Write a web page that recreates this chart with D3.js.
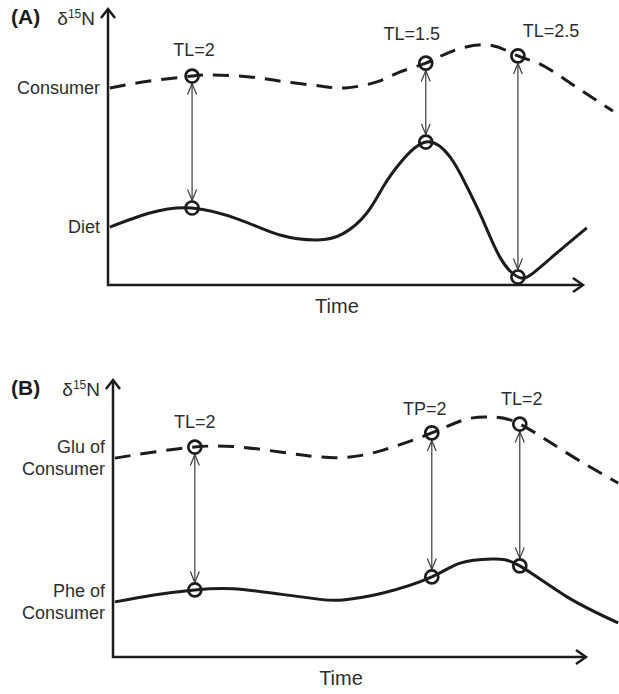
<!DOCTYPE html>
<html>
<head>
<meta charset="utf-8">
<script src="https://cdn.jsdelivr.net/npm/d3@7"></script>
<style>
  body { margin: 0; background: #fff; }
  svg { display: block; font-family: "Liberation Sans", Arial, sans-serif; }
</style>
</head>
<body>
<div id="chart"></div>
<script>
// Panel A - consumer vs diet (time in %, d15N in arbitrary units 0-100)
const consumerTimeA = [0.4, 8.8, 17.7, 21.9, 29.9, 37.3, 44.6, 49.9, 56.6, 61.5, 66.9, 72.0, 79.8, 86.3, 90.9, 97.3, 106.3];
const consumerA     = [71.4, 73.9, 75.7, 76.1, 75.4, 73.6, 72.1, 71.4, 73.6, 77.2, 80.4, 84.4, 87.0, 83.0, 80.1, 73.2, 63.0];
const dietTimeA = [0.4, 8.8, 17.7, 27.8, 36.2, 44.0, 49.5, 54.5, 57.9, 61.5, 66.9, 72.0, 75.6, 78.9, 82.5, 86.3, 89.5, 94.5, 100.8];
const dietA     = [21.0, 26.1, 27.9, 23.6, 18.1, 16.3, 18.6, 26.1, 35.5, 44.2, 51.8, 46.4, 35.5, 23.6, 10.1, 2.9, 4.3, 11.6, 20.7];
const markerTimeA = [17.7, 66.9, 86.3];
const markerTextA = ['TL=2', 'TL=1.5', 'TL=2.5'];
const seriesLabelsA = [['Consumer'], ['Diet']];

// Panel B - Glu vs Phe of the consumer
const gluTimeB = [0.4, 8.7, 17.3, 25.4, 35.3, 43.8, 50.1, 57.1, 67.4, 74.8, 80.3, 86.0, 96.0, 106.8];
const gluB     = [71.8, 74.0, 75.8, 76.0, 74.0, 72.2, 72.2, 74.7, 80.9, 85.9, 86.6, 84.1, 73.6, 62.8];
const pheTimeB = [0.4, 8.7, 17.3, 25.4, 35.3, 43.8, 48.6, 57.1, 67.4, 73.4, 80.1, 86.0, 96.0, 106.8];
const pheB     = [19.9, 22.4, 24.2, 24.6, 22.7, 20.8, 20.6, 23.1, 28.9, 33.9, 35.4, 32.9, 21.7, 12.3];
const markerTimeB = [17.3, 67.4, 86.0];
const markerTextB = ['TL=2', 'TP=2', 'TL=2'];
const seriesLabelsB = [['Glu of', 'Consumer'], ['Phe of', 'Consumer']];

const panelTags = ['(A)', '(B)'];

const W = 619, H = 694;
const ink = '#1c1c1c', textInk = '#2e2e2e';

const svg = d3.select('#chart').append('svg')
  .attr('width', W)
  .attr('height', H);

// open arrowhead for the TL connectors
svg.append('defs').append('marker')
  .attr('id', 'vhead')
  .attr('viewBox', '0 0 12 12')
  .attr('refX', 11).attr('refY', 6)
  .attr('markerWidth', 12).attr('markerHeight', 12)
  .attr('markerUnits', 'userSpaceOnUse')
  .attr('orient', 'auto-start-reverse')
  .append('path')
  .attr('d', 'M0,1.5 L11,6 L0,10.5')
  .attr('fill', 'none')
  .attr('stroke', '#3a3a3a')
  .attr('stroke-width', 1.2);

const panels = [
  {
    tag: panelTags[0], left: 108, right: 583, bottom: 285, top: 9,
    upper: { t: consumerTimeA, v: consumerA }, lower: { t: dietTimeA, v: dietA },
    markers: markerTimeA, texts: markerTextA, labels: seriesLabelsA,
    textShift: [[2, -20], [-14, -23], [33, -19]]
  },
  {
    tag: panelTags[1], left: 113, right: 586, bottom: 657, top: 380,
    upper: { t: gluTimeB, v: gluB }, lower: { t: pheTimeB, v: pheB },
    markers: markerTimeB, texts: markerTextB, labels: seriesLabelsB,
    textShift: [[0, -19], [-7, -18], [2, -19]]
  }
];

panels.forEach(p => drawPanel(p));

function drawPanel(p) {
  const x = d3.scaleLinear().domain([0, 100]).range([p.left, p.right]);
  const y = d3.scaleLinear().domain([0, 100]).range([p.bottom, p.top]);
  const g = svg.append('g');

  // axes with open arrow tips
  g.append('path')
    .attr('d', `M${x(0)},${y(100) + 1}L${x(0)},${y(0)}L${x(100) - 1},${y(0)}`)
    .attr('fill', 'none').attr('stroke', ink).attr('stroke-width', 2.5);
  g.append('path')
    .attr('d', `M${x(0) - 7},${y(100) + 9}L${x(0)},${y(100)}L${x(0) + 7},${y(100) + 9}`)
    .attr('fill', 'none').attr('stroke', ink).attr('stroke-width', 2.5);
  g.append('path')
    .attr('d', `M${x(100) - 10},${y(0) - 7}L${x(100)},${y(0)}L${x(100) - 10},${y(0) + 7}`)
    .attr('fill', 'none').attr('stroke', ink).attr('stroke-width', 2.5);

  // panel tag and axis titles
  g.append('text')
    .attr('x', 11).attr('y', y(100) + 15)
    .attr('font-size', 21).attr('font-weight', 'bold')
    .attr('fill', ink)
    .text(p.tag);
  const dl = g.append('text')
    .attr('x', x(0) - 13).attr('y', y(100) + 16)
    .attr('text-anchor', 'end')
    .attr('font-size', 19).attr('fill', textInk);
  dl.append('tspan').text('δ');
  dl.append('tspan').attr('font-size', 12).attr('dy', -7).text('15');
  dl.append('tspan').attr('dy', 7).text('N');

  g.append('text')
    .attr('x', x(48.2)).attr('y', y(0) + 28)
    .attr('text-anchor', 'middle')
    .attr('font-size', 20).attr('fill', textInk)
    .text('Time');

  const line = d3.line()
    .x(d => x(d[0]))
    .y(d => y(d[1]))
    .curve(d3.curveNatural);

  const upperPts = p.upper.t.map((t, i) => [t, p.upper.v[i]]);
  const lowerPts = p.lower.t.map((t, i) => [t, p.lower.v[i]]);

  g.append('path')
    .attr('d', line(upperPts))
    .attr('fill', 'none').attr('stroke', ink)
    .attr('stroke-width', 3)
    .attr('stroke-dasharray', '16,10');
  g.append('path')
    .attr('d', line(lowerPts))
    .attr('fill', 'none').attr('stroke', ink)
    .attr('stroke-width', 3);

  // series labels sit at the level where each curve starts
  [upperPts, lowerPts].forEach((pts, k) => {
    const lines = p.labels[k];
    const lh = 22;
    const y0 = y(pts[0][1]) + 6 - (lines.length - 1) * lh / 2;
    lines.forEach((s, j) => {
      g.append('text')
        .attr('x', x(0) - 8).attr('y', y0 + j * lh)
        .attr('text-anchor', 'end')
        .attr('font-size', 18).attr('fill', textInk)
        .text(s);
    });
  });

  const valueAt = (pts, t) => pts.find(d => d[0] === t)[1];
  const r = 6.5;

  p.markers.forEach((t, i) => {
    const yu = y(valueAt(upperPts, t));
    const yl = y(valueAt(lowerPts, t));

    g.append('line')
      .attr('x1', x(t)).attr('x2', x(t))
      .attr('y1', yu + r + 1).attr('y2', yl - r - 1)
      .attr('stroke', '#3a3a3a').attr('stroke-width', 1.2)
      .attr('marker-start', 'url(#vhead)')
      .attr('marker-end', 'url(#vhead)');

    [yu, yl].forEach(cy => {
      g.append('circle')
        .attr('cx', x(t)).attr('cy', cy).attr('r', r)
        .attr('fill', 'none').attr('stroke', ink).attr('stroke-width', 2.7);
    });

    g.append('text')
      .attr('x', x(t) + p.textShift[i][0]).attr('y', yu + p.textShift[i][1])
      .attr('text-anchor', 'middle')
      .attr('font-size', 18).attr('fill', textInk)
      .text(p.texts[i]);
  });
}
</script>
</body>
</html>
